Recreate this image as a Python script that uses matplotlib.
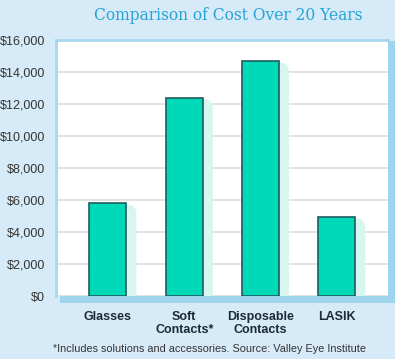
import matplotlib
matplotlib.use("Agg")
import matplotlib.pyplot as plt
from matplotlib.patches import FancyBboxPatch, Rectangle
from matplotlib.ticker import FuncFormatter

categories = ["Glasses", "Soft\nContacts*", "Disposable\nContacts", "LASIK"]
costs = [5800, 12400, 14700, 4950]
yticks = [0, 2000, 4000, 6000, 8000, 10000, 12000, 14000, 16000]

BG = "#d6eaf7"
BORDER = "#a7d8ef"
STRIP = "#9fd4ed"
BAR = "#00d9b8"
EDGE = "#1f5c5f"
SHADOW = "#d7f6ef"

W, H = 395, 359
fig = plt.figure(figsize=(3.95, 3.59), dpi=100, facecolor=BG)
ax = fig.add_axes([56 / W, 1 - 296 / H, 332 / W, 256 / H])
ax.set_facecolor("white")

# drop-shadow strips right and below the plot area
fig.patches.append(Rectangle((60 / W, 1 - 303 / H), 335 / W, 7 / H,
                             transform=fig.transFigure, facecolor=STRIP,
                             edgecolor="none", zorder=0))
fig.patches.append(Rectangle((388 / W, 1 - 303 / H), 7 / W, 262 / H,
                             transform=fig.transFigure, facecolor=STRIP,
                             edgecolor="none", zorder=0))

ax.set_xlim(-0.68, 3.67)
ax.set_ylim(0, 16000)

# y data units per x data unit in pixel terms, for rounded shadows
aspect = (16000 / 256) / (4.35 / 332)
for i, v in enumerate(costs):
    sh = FancyBboxPatch((i - 0.242 + 0.13, -2000), 0.485, v + 2000 - 100,
                        boxstyle="round,pad=0,rounding_size=0.12",
                        mutation_aspect=aspect, facecolor=SHADOW,
                        edgecolor="none", zorder=1)
    ax.add_patch(sh)

ax.bar(range(len(costs)), costs, width=0.485, color=BAR, edgecolor=EDGE,
       linewidth=1.2, zorder=3)

ax.set_yticks(yticks)
ax.yaxis.set_major_formatter(FuncFormatter(lambda v, p: f"${int(v):,}"))
ax.grid(axis="y", color="#dedede", linewidth=1.2, zorder=0)
ax.set_axisbelow(True)
ax.tick_params(axis="y", length=0, pad=8, labelsize=9, labelcolor="#333333")
ax.tick_params(axis="x", length=0, pad=11)
ax.set_xticks(range(len(categories)))
ax.set_xticklabels(categories, fontsize=9, fontweight="bold", color="#1c2b3a",
                   linespacing=1.05, va="top")
for lbl in ax.get_yticklabels() + ax.get_xticklabels():
    lbl.set_family("Liberation Sans")

for side in ["left", "top"]:
    ax.spines[side].set_color(BORDER)
    ax.spines[side].set_linewidth(2)
ax.spines["right"].set_visible(False)
ax.spines["bottom"].set_visible(False)

fig.text(228 / W, 1 - 15 / H, "Comparison of Cost Over 20 Years", ha="center",
         va="center", fontsize=11.2, color="#27a3d8", family="DejaVu Serif")
fig.text(210 / W, 1 - 349 / H,
         "*Includes solutions and accessories. Source: Valley Eye Institute",
         ha="center", va="center", fontsize=7.8, color="#333333",
         family="Liberation Sans")

fig.savefig("out.png", dpi=100, facecolor=BG)
